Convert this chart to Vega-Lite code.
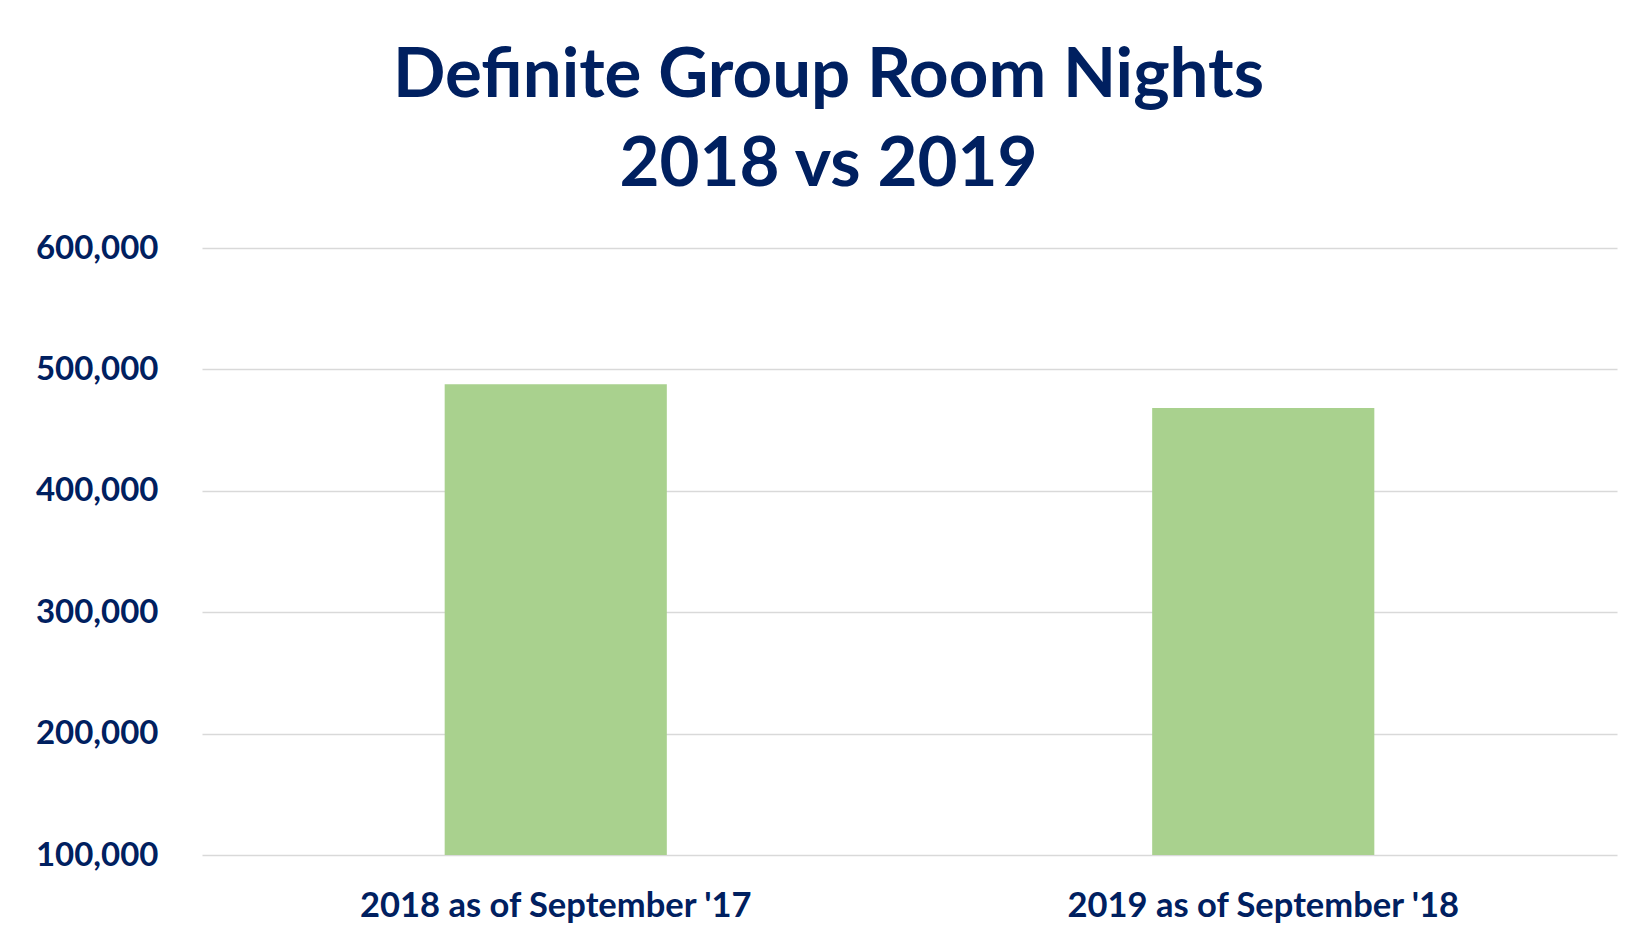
{
  "$schema": "https://vega.github.io/schema/vega-lite/v6.json",
  "width": 1415,
  "height": 607,
  "autosize": "none",
  "padding": {"left": 202, "top": 248, "right": 10, "bottom": 82},
  "background": "white",
  "title": {
    "text": ["Definite Group Room Nights", "2018 vs 2019"],
    "font": "Lato",
    "fontSize": 69,
    "fontWeight": "bold",
    "color": "#002060",
    "lineHeight": 89,
    "anchor": "middle",
    "frame": "group",
    "dx": -81,
    "offset": 32
  },
  "data": {
    "values": [
      {"category": "2018 as of September '17", "nights": 487700},
      {"category": "2019 as of September '18", "nights": 468200}
    ]
  },
  "mark": {"type": "bar", "color": "#a9d18e", "width": {"band": 0.314}},
  "encoding": {
    "x": {
      "field": "category",
      "type": "nominal",
      "sort": null,
      "scale": {"paddingInner": 0, "paddingOuter": 0},
      "axis": {
        "title": null,
        "labelAngle": 0,
        "domain": false,
        "ticks": false,
        "grid": false,
        "labelLimit": 0,
        "labelFont": "Lato",
        "labelFontSize": 34.5,
        "labelFontWeight": "bold",
        "labelColor": "#002060",
        "labelPadding": 34
      }
    },
    "y": {
      "field": "nights",
      "type": "quantitative",
      "scale": {"domain": [100000, 600000], "zero": false},
      "axis": {
        "title": null,
        "values": [100000, 200000, 300000, 400000, 500000, 600000],
        "format": ",d",
        "domain": false,
        "ticks": false,
        "grid": true,
        "gridColor": "#d9d9d9",
        "gridWidth": 1.5,
        "labelLimit": 0,
        "labelFont": "Lato",
        "labelFontSize": 33,
        "labelFontWeight": "bold",
        "labelColor": "#002060",
        "labelPadding": 44
      }
    },
    "y2": {"datum": 100000}
  },
  "config": {"view": {"stroke": null}}
}
